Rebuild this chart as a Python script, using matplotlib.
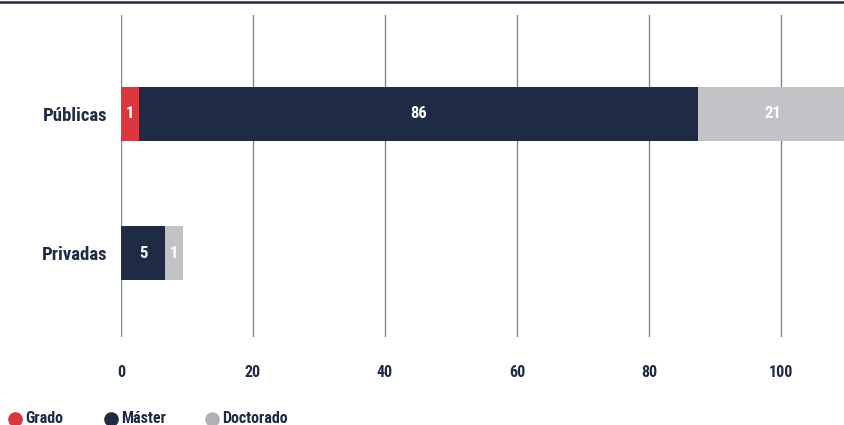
import matplotlib
matplotlib.use("Agg")
import matplotlib.pyplot as plt
from matplotlib.lines import Line2D
import numpy as np

plt.rcParams['font.family'] = ['Roboto Condensed', 'DejaVu Sans']
plt.rcParams['font.weight'] = 'bold'

categories = ["Públicas", "Privadas"]
series = ["Grado", "Máster", "Doctorado"]
# bar lengths as drawn
grado = [2.7, 0.0]
master = [84.7, 6.7]
doctorado = [22.6, 2.7]
# value labels as printed
grado_lbl = ["1", ""]
master_lbl = ["86", "5"]
doctorado_lbl = ["21", "1"]
xticks = [0, 20, 40, 60, 80, 100]

NAVY = "#1f2a44"
RED = "#d9363e"
GREY = "#c2c3c6"
GRID = "#7f8498"

fig = plt.figure(figsize=(8.45, 4.25), dpi=100)
ax = fig.add_axes([121/845, 1-337/425, 1-121/845, (337-15)/425])

y = np.arange(len(categories))
h = 0.39
left = np.zeros(len(categories))
for vals, lbls, col in [(grado, grado_lbl, RED), (master, master_lbl, NAVY), (doctorado, doctorado_lbl, GREY)]:
    vals = np.array(vals)
    ax.barh(y, vals, left=left, height=h, color=col, zorder=3)
    for yi, (l, v, t) in enumerate(zip(left, vals, lbls)):
        if t:
            ax.text(l + v/2, yi, t, ha='center', va='center', color='white',
                    fontsize=12, fontweight='bold', zorder=4)
    left = left + vals

ax.set_xlim(0, 109.7)
ax.set_ylim(1.604, -0.712)
ax.set_xticks(xticks)
ax.set_xticklabels([str(t) for t in xticks])
ax.set_yticks(y)
ax.set_yticklabels(categories)
ax.tick_params(axis='x', length=0, pad=20.5, labelsize=11.5, labelcolor=NAVY)
ax.tick_params(axis='y', length=0, pad=10, labelsize=13.5, labelcolor=NAVY)
for lab in ax.get_xticklabels() + ax.get_yticklabels():
    lab.set_fontweight('bold')
for s in ax.spines.values():
    s.set_visible(False)
ax.grid(axis='x', color=GRID, linewidth=1, zorder=0)
ax.set_axisbelow(True)

fig.add_artist(Line2D([0, 1], [1-1.5/425, 1-1.5/425], color=NAVY, linewidth=1.8))

# legend
leg_colors = [RED, NAVY, "#b0b1b5"]
leg_x = [15, 111, 212]
ly = 1 - 418.5/425
for name, c, xp in zip(series, leg_colors, leg_x):
    fig.add_artist(Line2D([xp/845], [ly], marker='o', markersize=9.5, linestyle='',
                          markerfacecolor=c, markeredgecolor=c))
    fig.text((xp + 10)/845, ly, name, ha='left', va='center', fontsize=11.5,
             color=NAVY, fontweight='bold')

fig.savefig("out.png", dpi=100)
